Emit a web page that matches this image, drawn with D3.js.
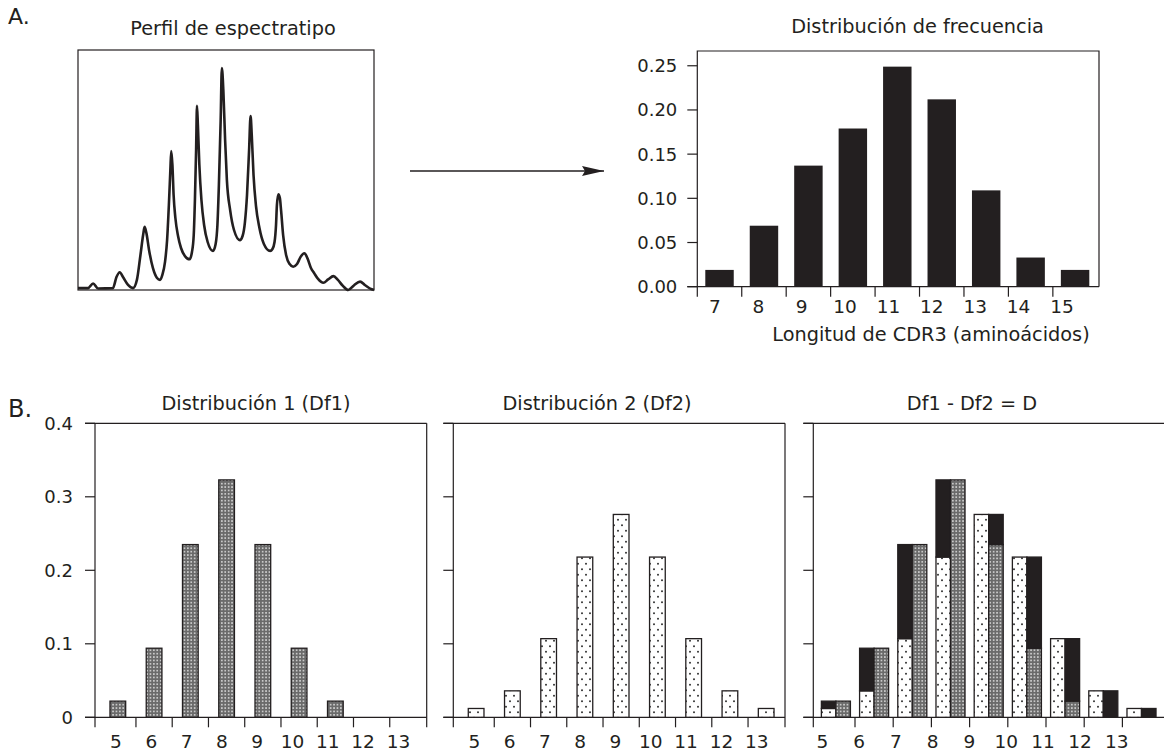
<!DOCTYPE html>
<html>
<head>
<meta charset="utf-8">
<script src="https://cdn.jsdelivr.net/npm/d3@7"></script>
<style>
  body { margin: 0; background: #fff; }
  text { font-family: "DejaVu Sans", sans-serif; fill: #231f20; }
</style>
</head>
<body>
<div id="chart"></div>
<script>
// ---- data ----
// spectratype profile (A, left): position vs. fluorescence
var spectraX = [0, 3.4, 5.1, 6.8, 11.8, 13.0, 14.1, 15.2, 16.9, 18.6, 19.9, 21.1, 22.0, 22.5, 23.1, 24.0, 25.3, 26.7,
  27.7, 28.5, 29.4, 30.1, 30.7, 31.2, 31.5, 31.9, 32.3, 32.9, 33.8, 34.8, 36.1, 37.7, 38.5, 39.1, 39.5, 39.9, 40.2,
  40.5, 41.0, 41.7, 42.6, 43.8, 45.6, 46.5, 47.1, 47.6, 48.2, 48.6, 49.1, 49.7, 50.3, 51.4, 52.7, 54.7, 55.6, 56.4,
  57.1, 57.8, 58.3, 58.7, 59.3, 60.1, 61.3, 62.8, 64.9, 65.7, 66.4, 66.9, 67.2, 67.7, 68.2, 68.6, 69.3, 70.3, 71.5,
  72.7, 74.0, 75.2, 76.5, 77.5, 78.7, 79.8, 81.1, 82.9, 84.5, 86.3, 87.8, 89.5, 91.3, 93.2, 95.3, 96.9, 99.2, 100];
var spectraY = [0.8, 0.8, 2.7, 0.6, 0.8, 5.4, 7.4, 5.4, 2.1, 0.8, 4.2, 14.6, 22.9, 26.3, 23.8, 16.7, 9.2, 5.0,
  4.2, 6.3, 11.7, 20.8, 35.4, 50.0, 57.9, 52.1, 39.6, 30.0, 22.5, 17.5, 14.2, 12.8, 15.8, 22.9, 37.5, 58.3, 76.7,
  68.8, 52.1, 37.5, 27.1, 20.0, 16.3, 19.2, 27.1, 43.8, 70.8, 92.5, 83.3, 62.5, 45.8, 33.3, 25.0, 20.8, 22.5, 28.3,
  39.6, 58.3, 72.5, 64.6, 47.9, 35.4, 25.8, 19.2, 16.3, 17.1, 20.0, 27.1, 35.4, 39.9, 38.3, 33.3, 22.9, 14.6, 10.8,
  9.7, 10.8, 13.8, 15.3, 13.3, 9.2, 7.0, 4.6, 3.0, 4.4, 5.8, 4.2, 1.7, 0, 1.9, 3.5, 2.1, 0.3, 0];

// frequency distribution (A, right)
var cdr3Lengths = [7, 8, 9, 10, 11, 12, 13, 14, 15];
var cdr3Freq = [0.019, 0.069, 0.137, 0.179, 0.249, 0.212, 0.109, 0.033, 0.019];
var freqTicks = [0, 0.05, 0.10, 0.15, 0.20, 0.25];

// distributions (B)
var lengthsB = [5, 6, 7, 8, 9, 10, 11, 12, 13];
var df1 = [0.022, 0.094, 0.235, 0.323, 0.235, 0.094, 0.022, 0, 0];
var df2 = [0.012, 0.036, 0.107, 0.218, 0.276, 0.218, 0.107, 0.036, 0.012];
var ticksB = [0, 0.1, 0.2, 0.3, 0.4];

var ink = '#231f20';

var svg = d3.select('#chart').append('svg')
  .attr('width', 1164)
  .attr('height', 753);

svg.append('rect').attr('width', 1164).attr('height', 753).attr('fill', '#fff');

// hatch patterns
var defs = svg.append('defs');
var p1 = defs.append('pattern').attr('id', 'pat-df1')
  .attr('patternUnits', 'userSpaceOnUse').attr('width', 3.4).attr('height', 3.4);
p1.append('rect').attr('width', 3.4).attr('height', 3.4).attr('fill', '#6a6a6a');
p1.append('rect').attr('width', 1.7).attr('height', 1.7).attr('fill', '#c8c8c8');

var p2 = defs.append('pattern').attr('id', 'pat-df2')
  .attr('patternUnits', 'userSpaceOnUse').attr('width', 8).attr('height', 11);
p2.append('rect').attr('width', 8).attr('height', 11).attr('fill', '#fff');
p2.append('circle').attr('cx', 2).attr('cy', 2.75).attr('r', 1).attr('fill', '#333');
p2.append('circle').attr('cx', 6).attr('cy', 8.25).attr('r', 1).attr('fill', '#333');

defs.append('marker').attr('id', 'arrow')
  .attr('viewBox', '0 0 22 10').attr('refX', 22).attr('refY', 5)
  .attr('markerUnits', 'userSpaceOnUse')
  .attr('markerWidth', 22).attr('markerHeight', 10).attr('orient', 'auto')
  .append('path').attr('d', 'M0,0L22,5L0,10L3,5Z').attr('fill', ink);

// panel letters
svg.append('text').attr('x', 8).attr('y', 24).style('font-size', '22px').text('A.');
svg.append('text').attr('x', 8).attr('y', 417).style('font-size', '24px').text('B.');

// ---------- A left: spectratype profile ----------
var sx = d3.scaleLinear().domain([0, 100]).range([78, 374]);
var sy = d3.scaleLinear().domain([0, 100]).range([290, 50]);

svg.append('text').attr('x', 233).attr('y', 35).attr('text-anchor', 'middle')
  .style('font-size', '19.3px').text('Perfil de espectratipo');

svg.append('rect')
  .attr('x', sx(0)).attr('y', sy(100))
  .attr('width', sx(100) - sx(0)).attr('height', sy(0) - sy(100))
  .attr('fill', 'none').attr('stroke', ink).attr('stroke-width', 1.2);

var profile = spectraX.map(function(x, i) { return [x, spectraY[i]]; });
svg.append('path')
  .datum(profile)
  .attr('fill', 'none')
  .attr('stroke', ink)
  .attr('stroke-width', 2.6)
  .attr('stroke-linejoin', 'round')
  .attr('d', d3.line()
    .x(function(d) { return sx(d[0]); })
    .y(function(d) { return sy(d[1]); })
    .curve(d3.curveMonotoneX));

// arrow
svg.append('line')
  .attr('x1', 410).attr('x2', 604).attr('y1', 171).attr('y2', 171)
  .attr('stroke', ink).attr('stroke-width', 1.5)
  .attr('marker-end', 'url(#arrow)');

// ---------- A right: frequency distribution ----------
var fx = d3.scaleBand().domain(cdr3Lengths).range([697.3, 1097.3])
  .paddingInner(0.36).paddingOuter(0.18);
var fxLab = d3.scalePoint().domain(cdr3Lengths).range([715, 1062]);
var fy = d3.scaleLinear().domain([0, 0.2667]).range([286.7, 51]);
var fStep = fx.step();

svg.append('text').attr('x', 917.5).attr('y', 33.3).attr('text-anchor', 'middle')
  .style('font-size', '19.3px').text('Distribución de frecuencia');

var gf = svg.append('g');
// frame
gf.append('path')
  .attr('d', 'M' + fx.range()[0] + ',' + fy(0) + 'V' + fy.range()[1] + 'H1099V' + fy(0))
  .attr('fill', 'none').attr('stroke', ink).attr('stroke-width', 1.2);
gf.append('line')
  .attr('x1', fx.range()[0] - 10).attr('x2', 1099)
  .attr('y1', fy(0)).attr('y2', fy(0))
  .attr('stroke', ink).attr('stroke-width', 1.2);

gf.selectAll('.ytick').data(freqTicks).enter().append('line')
  .attr('x1', fx.range()[0] - 10).attr('x2', fx.range()[0])
  .attr('y1', function(d) { return fy(d); }).attr('y2', function(d) { return fy(d); })
  .attr('stroke', ink).attr('stroke-width', 1.2);
gf.selectAll('.ylab').data(freqTicks).enter().append('text')
  .attr('x', fx.range()[0] - 20)
  .attr('y', function(d) { return fy(d); })
  .attr('dy', '0.36em')
  .attr('text-anchor', 'end')
  .style('font-size', '18px')
  .text(function(d) { return d3.format('.2f')(d); });

gf.selectAll('.xtick').data(cdr3Lengths).enter().append('line')
  .attr('x1', function(d) { return fx(d) - fStep * 0.18; })
  .attr('x2', function(d) { return fx(d) - fStep * 0.18; })
  .attr('y1', fy(0)).attr('y2', fy(0) + 10)
  .attr('stroke', ink).attr('stroke-width', 1.2);
gf.selectAll('.xlab').data(cdr3Lengths).enter().append('text')
  .attr('x', function(d) { return fxLab(d); })
  .attr('y', 313.3)
  .attr('text-anchor', 'middle')
  .style('font-size', '18.5px')
  .text(function(d) { return d; });

gf.selectAll('.bar').data(cdr3Freq).enter().append('rect')
  .attr('x', function(d, i) { return fx(cdr3Lengths[i]); })
  .attr('width', fx.bandwidth())
  .attr('y', function(d) { return fy(d); })
  .attr('height', function(d) { return fy(0) - fy(d); })
  .attr('fill', ink);

svg.append('text').attr('x', 931).attr('y', 341).attr('text-anchor', 'middle')
  .style('font-size', '19.3px').text('Longitud de CDR3 (aminoácidos)');

// ---------- B: three distribution panels ----------
var yB = d3.scaleLinear().domain([0, 0.4]).range([717.3, 423.3]);

function panelB(opts) {
  var g = svg.append('g');
  var x = d3.scaleBand().domain(lengthsB).range(opts.band)
    .paddingInner(opts.pad).paddingOuter(opts.pad / 2);
  var xLab = d3.scalePoint().domain(lengthsB).range(opts.labels);
  var step = x.step();
  var left = opts.left, right = opts.right;

  g.append('text').attr('x', opts.titleX).attr('y', 410).attr('text-anchor', 'middle')
    .style('font-size', '19.3px').text(opts.title);

  // frame
  g.append('line').attr('x1', left - 10).attr('x2', right).attr('y1', yB(0.4)).attr('y2', yB(0.4))
    .attr('stroke', ink).attr('stroke-width', 1.2);
  g.append('line').attr('x1', left - 10).attr('x2', right).attr('y1', yB(0)).attr('y2', yB(0))
    .attr('stroke', ink).attr('stroke-width', 1.2);
  g.append('line').attr('x1', left).attr('x2', left).attr('y1', yB(0.4)).attr('y2', yB(0) + 10)
    .attr('stroke', ink).attr('stroke-width', 1.2);
  g.append('line').attr('x1', right).attr('x2', right).attr('y1', yB(0.4)).attr('y2', yB(0) + 10)
    .attr('stroke', ink).attr('stroke-width', 1.2);

  g.selectAll('.yt').data(ticksB).enter().append('line')
    .attr('x1', left - 10).attr('x2', left)
    .attr('y1', function(d) { return yB(d); }).attr('y2', function(d) { return yB(d); })
    .attr('stroke', ink).attr('stroke-width', 1.2);
  if (opts.yLabels) {
    g.selectAll('.yl').data(ticksB).enter().append('text')
      .attr('x', left - 22)
      .attr('y', function(d) { return yB(d); })
      .attr('dy', '0.36em')
      .attr('text-anchor', 'end')
      .style('font-size', '18px')
      .text(function(d) { return d; });
  }

  g.selectAll('.xt').data(lengthsB.slice(1)).enter().append('line')
    .attr('x1', function(d) { return x(d) - step * opts.pad / 2; })
    .attr('x2', function(d) { return x(d) - step * opts.pad / 2; })
    .attr('y1', yB(0)).attr('y2', yB(0) + 10)
    .attr('stroke', ink).attr('stroke-width', 1.2);
  g.selectAll('.xl').data(lengthsB).enter().append('text')
    .attr('x', function(d) { return xLab(d); })
    .attr('y', 747.7)
    .attr('text-anchor', 'middle')
    .style('font-size', '18.5px')
    .text(function(d) { return d; });

  return { g: g, x: x };
}

var pan1 = panelB({ left: 95, right: 426.7, band: [99.7, 426], pad: 0.567, labels: [116, 398.4],
  title: 'Distribución 1 (Df1)', titleX: 256, yLabels: true });
pan1.g.selectAll('.bar').data(df1).enter().append('rect')
  .attr('x', function(d, i) { return pan1.x(lengthsB[i]); })
  .attr('width', pan1.x.bandwidth())
  .attr('y', function(d) { return yB(d); })
  .attr('height', function(d) { return yB(0) - yB(d); })
  .attr('fill', 'url(#pat-df1)')
  .attr('stroke', function(d) { return d > 0 ? ink : 'none'; })
  .attr('stroke-width', 1.3);

var pan2 = panelB({ left: 453.3, right: 785, band: [458, 784.3], pad: 0.567, labels: [474.3, 756.7],
  title: 'Distribución 2 (Df2)', titleX: 597, yLabels: false });
pan2.g.selectAll('.bar').data(df2).enter().append('rect')
  .attr('x', function(d, i) { return pan2.x(lengthsB[i]); })
  .attr('width', pan2.x.bandwidth())
  .attr('y', function(d) { return yB(d); })
  .attr('height', function(d) { return yB(0) - yB(d); })
  .attr('fill', 'url(#pat-df2)')
  .attr('stroke', ink).attr('stroke-width', 1.3);

// D = Df1 - Df2 : left bar Df2 (+ black excess of Df1), right bar Df1 (+ black excess of Df2)
var pan3 = panelB({ left: 813.3, right: 1170, band: [816.8, 1160.6], pad: 0.24, labels: [822.3, 1116.7],
  title: 'Df1 - Df2 = D', titleX: 972, yLabels: false });
var sub = d3.scaleBand().domain(['df2', 'df1']).range([0, pan3.x.bandwidth()]);

var segs = [];
lengthsB.forEach(function(len, i) {
  var top = Math.max(df1[i], df2[i]);
  segs.push({ len: len, side: 'df2', y0: 0, y1: df2[i], fill: 'url(#pat-df2)' });
  if (top > df2[i]) segs.push({ len: len, side: 'df2', y0: df2[i], y1: top, fill: ink });
  segs.push({ len: len, side: 'df1', y0: 0, y1: df1[i], fill: 'url(#pat-df1)' });
  if (top > df1[i]) segs.push({ len: len, side: 'df1', y0: df1[i], y1: top, fill: ink });
});

pan3.g.selectAll('.seg').data(segs.filter(function(s) { return s.y1 > s.y0; })).enter().append('rect')
  .attr('x', function(d) { return pan3.x(d.len) + sub(d.side); })
  .attr('width', sub.bandwidth())
  .attr('y', function(d) { return yB(d.y1); })
  .attr('height', function(d) { return yB(d.y0) - yB(d.y1); })
  .attr('fill', function(d) { return d.fill; })
  .attr('stroke', ink).attr('stroke-width', 1.3);
</script>
</body>
</html>
